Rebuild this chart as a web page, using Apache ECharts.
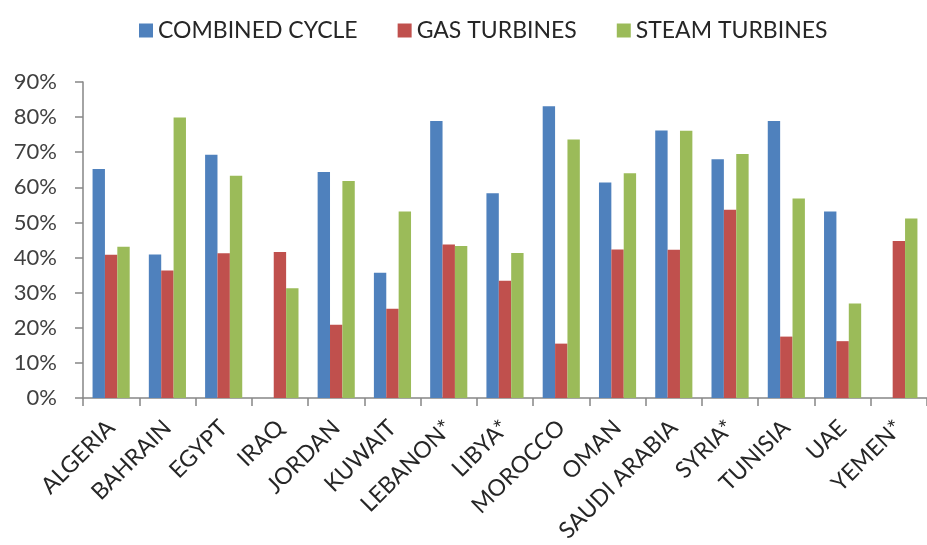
<!DOCTYPE html>
<html>
<head>
<meta charset="utf-8">
<script src="https://cdn.jsdelivr.net/npm/echarts@6/dist/echarts.min.js"></script>
<style>
  html, body { margin: 0; padding: 0; background: #fff; }
  #chart { width: 927px; height: 545px; }
</style>
</head>
<body>
<div id="chart"></div>
<script>
// Power plant efficiency by technology and country (%)
const countries = ['ALGERIA', 'BAHRAIN', 'EGYPT', 'IRAQ', 'JORDAN', 'KUWAIT', 'LEBANON*',
  'LIBYA*', 'MOROCCO', 'OMAN', 'SAUDI ARABIA', 'SYRIA*', 'TUNISIA', 'UAE', 'YEMEN*'];
const combinedCycle = [65.2, 40.9, 69.3, null, 64.4, 35.7, 78.9, 58.3, 83.1, 61.4, 76.2, 68.0, 78.9, 53.1, null];
const gasTurbines   = [40.8, 36.3, 41.2, 41.6, 20.9, 25.4, 43.7, 33.4, 15.5, 42.3, 42.2, 53.6, 17.5, 16.2, 44.7];
const steamTurbines = [43.1, 79.9, 63.3, 31.3, 61.8, 53.1, 43.3, 41.3, 73.6, 64.0, 76.1, 69.5, 56.8, 26.9, 51.1];
const yTicks = { min: 0, max: 90, step: 10 };

const FONT = 'Lato';
const chart = echarts.init(document.getElementById('chart'), null, { renderer: 'canvas' });

function barSeries(name, data, color) {
  return {
    name: name,
    type: 'bar',
    data: data,
    barGap: '0%',
    barCategoryGap: '34%',
    itemStyle: { color: color },
    emphasis: { disabled: true }
  };
}

chart.setOption({
  animation: false,
  backgroundColor: '#ffffff',
  textStyle: { fontFamily: FONT },
  legend: {
    top: 14,
    left: 134,
    itemWidth: 14,
    itemHeight: 14,
    itemGap: 40,
    icon: 'rect',
    textStyle: { fontFamily: FONT, fontSize: 23, color: '#262626' },
    data: ['COMBINED CYCLE', 'GAS TURBINES', 'STEAM TURBINES']
  },
  grid: { left: 83, right: -9, top: 82, bottom: 145, containLabel: false },
  xAxis: {
    type: 'category',
    data: countries,
    axisLine: { lineStyle: { color: '#868686', width: 1.5 } },
    axisTick: { show: true, length: 8, alignWithLabel: false, lineStyle: { color: '#868686', width: 1.5 } },
    axisLabel: {
      interval: 0,
      rotate: 45,
      margin: 26,
      fontFamily: FONT,
      fontSize: 23,
      color: '#262626'
    }
  },
  yAxis: {
    type: 'value',
    min: yTicks.min,
    max: yTicks.max,
    interval: yTicks.step,
    axisLine: { show: true, lineStyle: { color: '#868686', width: 1.5 } },
    axisTick: { show: true, length: 8, lineStyle: { color: '#868686', width: 1.5 } },
    splitLine: { show: false },
    axisLabel: {
      formatter: '{value}%',
      margin: 26,
      fontFamily: FONT,
      fontSize: 22,
      color: '#404040'
    }
  },
  series: [
    barSeries('COMBINED CYCLE', combinedCycle, '#4F81BD'),
    barSeries('GAS TURBINES', gasTurbines, '#C0504D'),
    barSeries('STEAM TURBINES', steamTurbines, '#9BBB59')
  ]
});
</script>
</body>
</html>
